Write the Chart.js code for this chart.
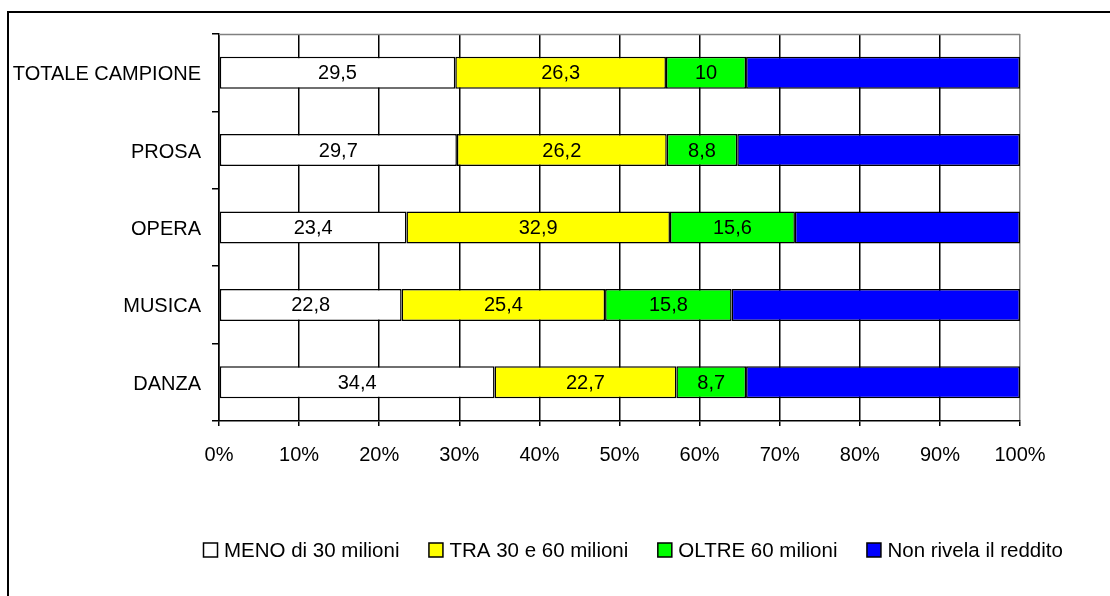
<!DOCTYPE html>
<html>
<head>
<meta charset="utf-8">
<script src="https://cdn.jsdelivr.net/npm/chart.js@4"></script>
<style>
html,body{margin:0;padding:0;background:#fff;}
#wrap{width:1110px;height:596px;position:relative;}
</style>
</head>
<body>
<div id="wrap"><canvas id="c" width="1110" height="596"></canvas></div>
<script>
const categories = ["TOTALE CAMPIONE", "PROSA", "OPERA", "MUSICA", "DANZA"];
const seriesNames = ["MENO di 30 milioni", "TRA 30 e 60 milioni", "OLTRE 60 milioni", "Non rivela il reddito"];
const meno30 = [29.5, 29.7, 23.4, 22.8, 34.4];
const tra30e60 = [26.3, 26.2, 32.9, 25.4, 22.7];
const oltre60 = [10, 8.8, 15.6, 15.8, 8.7];
const nonRivela = [34.2, 35.3, 28.1, 36.0, 34.2];
const xTicks = [0, 10, 20, 30, 40, 50, 60, 70, 80, 90, 100];
const colors = ["#FFFFFF", "#FFFF00", "#00FF00", "#0000FF"];
const labelledSeries = [0, 1, 2];

const FONT = "'Liberation Sans', Arial, sans-serif";

const frame = {
  id: 'frame',
  beforeDraw(chart) {
    const ctx = chart.ctx;
    ctx.save();
    ctx.fillStyle = '#fff';
    ctx.fillRect(0, 0, chart.width, chart.height);
    ctx.strokeStyle = '#000';
    ctx.lineWidth = 2;
    ctx.beginPath();
    ctx.moveTo(8, chart.height);
    ctx.lineTo(8, 12);
    ctx.lineTo(chart.width, 12);
    ctx.stroke();
    ctx.restore();
  },
  beforeDatasetsDraw(chart) {
    const a = chart.chartArea, ctx = chart.ctx;
    ctx.save();
    ctx.strokeStyle = '#808080';
    ctx.lineWidth = 1.5;
    ctx.beginPath();
    ctx.moveTo(a.left, a.top + 0.5);
    ctx.lineTo(a.right, a.top + 0.5);
    ctx.stroke();
    ctx.restore();
  },
  afterDatasetsDraw(chart) {
    const ctx = chart.ctx;
    ctx.save();
    ctx.font = '20px ' + FONT;
    ctx.fillStyle = '#000';
    ctx.textAlign = 'center';
    ctx.textBaseline = 'middle';
    labelledSeries.forEach(di => {
      const meta = chart.getDatasetMeta(di);
      meta.data.forEach((el, i) => {
        const v = chart.data.datasets[di].data[i];
        const p = el.getProps(['x', 'y', 'base'], true);
        const txt = String(v).replace('.', ',');
        ctx.fillText(txt, (p.x + p.base) / 2, p.y + 1);
      });
    });
    ctx.restore();
  },
  afterDraw(chart) {
    // legend
    const ctx = chart.ctx;
    ctx.save();
    ctx.font = '20.5px ' + FONT;
    ctx.textAlign = 'left';
    ctx.textBaseline = 'middle';
    const cy = 550;
    let x = 203;
    const box = 14;
    chart.data.datasets.forEach(d => {
      ctx.fillStyle = d.backgroundColor;
      ctx.fillRect(x + 0.5, cy - box / 2, box, box);
      ctx.strokeStyle = '#000';
      ctx.lineWidth = 1.5;
      ctx.strokeRect(x + 0.5, cy - box / 2, box, box);
      ctx.fillStyle = '#000';
      const tx = x + 21;
      ctx.fillText(d.label, tx, cy + 1);
      x = tx + ctx.measureText(d.label).width + 29;
    });
    ctx.restore();
  }
};

const seriesData = [meno30, tra30e60, oltre60, nonRivela];

new Chart(document.getElementById('c'), {
  type: 'bar',
  data: {
    labels: categories,
    datasets: seriesNames.map((n, i) => ({
      label: n,
      data: seriesData[i],
      backgroundColor: colors[i],
      borderColor: '#000',
      borderWidth: 1.5,
      borderSkipped: false,
      barPercentage: 0.413,
      categoryPercentage: 1
    }))
  },
  options: {
    indexAxis: 'y',
    responsive: false,
    animation: false,
    devicePixelRatio: 1,
    layout: { padding: { left: 0, right: 90, top: 34, bottom: 85 } },
    scales: {
      x: {
        stacked: true,
        min: 0,
        max: 100,
        afterBuildTicks(scale) { scale.ticks = xTicks.map(v => ({ value: v })); },
        afterFit(scale) { scale.height = 90; },
        ticks: {
          font: { size: 20, family: FONT },
          color: '#000',
          padding: 17,
          callback: v => v + '%'
        },
        grid: {
          color: ctx => (ctx.tick && ctx.tick.value === 100) ? '#808080' : '#000',
          tickColor: '#000',
          tickLength: 5,
          lineWidth: 1.5
        },
        border: { color: '#000', width: 1.5 }
      },
      y: {
        stacked: true,
        afterFit(scale) { scale.width = 219; },
        ticks: {
          font: { size: 20, family: FONT },
          color: '#000',
          padding: 11,
          labelOffset: 2,
          autoSkip: false
        },
        grid: {
          offset: true,
          drawOnChartArea: false,
          color: '#000',
          tickLength: 7,
          lineWidth: 1.5
        },
        border: { color: '#000', width: 1.5 }
      }
    },
    plugins: {
      legend: { display: false },
      tooltip: { enabled: false }
    }
  },
  plugins: [frame]
});
</script>
</body>
</html>
